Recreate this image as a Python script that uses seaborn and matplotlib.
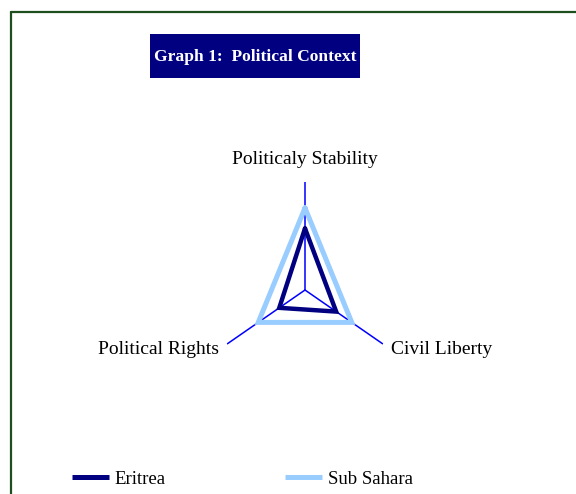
import numpy as np
import pandas as pd
import matplotlib.pyplot as plt
from matplotlib.lines import Line2D
from matplotlib.patches import Rectangle
import seaborn as sns

# values (scale max = 1)
categories = ['Politicaly Stability', 'Civil Liberty', 'Political Rights']
eritrea = [0.57, 0.40, 0.33]
sub_sahara = [0.76, 0.60, 0.60]
series_names = ['Eritrea', 'Sub Sahara']
colors = {'Eritrea': '#000080', 'Sub Sahara': '#99ccff'}

sns.set_style('white')
plt.rcParams['font.family'] = ['Liberation Serif', 'DejaVu Serif']
plt.rcParams['text.color'] = 'black'

angles = np.linspace(0, 2 * np.pi, len(categories), endpoint=False)

# closed polygons for each series
rows = []
for name, vals in zip(series_names, [eritrea, sub_sahara]):
    for i in list(range(len(categories))) + [0]:
        rows.append({'angle': angles[i], 'value': vals[i], 'series': name})
df = pd.DataFrame(rows)

fig = plt.figure(figsize=(5.76, 4.94), dpi=100)

# frame (left + top edges)
fig.add_artist(Line2D([11 / 576, 11 / 576], [0, 1 - 12 / 494], transform=fig.transFigure,
                      color='#1e4d1e', lw=1.6))
fig.add_artist(Line2D([11 / 576, 1], [1 - 12 / 494, 1 - 12 / 494], transform=fig.transFigure,
                      color='#1e4d1e', lw=1.6))

# title box
fig.add_artist(Rectangle((150 / 576, 1 - 78 / 494), 210 / 576, 44 / 494,
                         transform=fig.transFigure, facecolor='#000080', edgecolor='none'))
fig.text(255 / 576, 1 - 57 / 494, 'Graph 1:  Political Context', color='white',
         fontsize=12.6, fontweight='bold', ha='center', va='center')

ax = fig.add_axes([215 / 576, 96 / 494, 180 / 576, 216 / 494], projection='polar')
ax.set_aspect('auto')
ax.set_theta_zero_location('N')
ax.set_theta_direction(-1)

sns.lineplot(data=df, x='angle', y='value', hue='series', palette=colors, sort=False,
             estimator=None, ax=ax, legend=False)
for line, lw in zip(ax.lines, [3.2, 3.6]):
    line.set_linewidth(lw)
    line.set_solid_joinstyle('miter')
ax.lines[1].set_zorder(2)
ax.lines[0].set_zorder(3)

ax.set_xlabel('')
ax.set_ylabel('')
ax.set_ylim(0, 1)
ax.set_yticks([])
ax.set_xticks(angles)
ax.set_xticklabels([])
ax.xaxis.grid(True, color='#0000ff', lw=1.1)
ax.yaxis.grid(False)
ax.spines['polar'].set_visible(False)
ax.set_facecolor('none')

ax.text(angles[0], 1.21, categories[0], ha='center', va='center', fontsize=14)
ax.text(angles[1], 1.1, categories[1], ha='left', va='center', fontsize=14)
ax.text(angles[2], 1.1, categories[2], ha='right', va='center', fontsize=14)

handles = [Line2D([], [], color=colors[n], lw=3.6, solid_capstyle='butt') for n in series_names]
fig.legend(handles, series_names, loc='center left', bbox_to_anchor=(72 / 576, 1 - 479 / 494),
           ncol=2, frameon=False, fontsize=13.5, borderpad=0, borderaxespad=0,
           handlelength=1.95, handletextpad=0.3, columnspacing=6.4)

plt.savefig('out.png', dpi=100)
